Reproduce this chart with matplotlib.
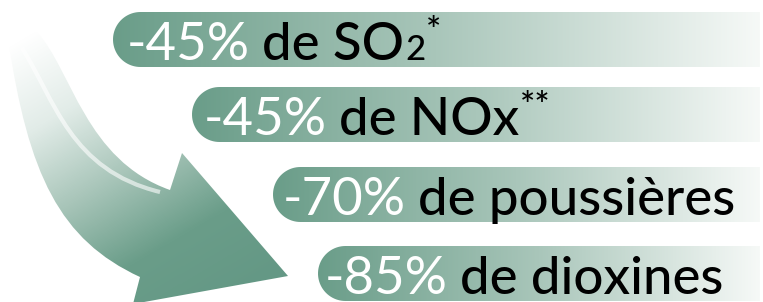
import matplotlib
matplotlib.use('Agg')
import numpy as np
import matplotlib.pyplot as plt
from matplotlib.path import Path
from matplotlib.patches import PathPatch
from matplotlib.colors import LinearSegmentedColormap

# Data: reductions shown on the infographic
percent = ['-45%', '-45%', '-70%', '-85%']
pollutant = ['de SO', 'de NOx', 'de poussières', 'de dioxines']
subscript = ['2', '', '', '']
note = ['*', '**', '', '']

W, H = 763, 302
GREEN = '#6a9d89'
FONT = 'Lato'
SIZE = 38

fig = plt.figure(figsize=(W / 100, H / 100), dpi=100)
ax = fig.add_axes([0, 0, 1, 1])
ax.set_xlim(0, W)
ax.set_ylim(H, 0)
ax.axis('off')
renderer = fig.canvas.get_renderer()

bar_cmap = LinearSegmentedColormap.from_list('bar', [GREEN, '#a9c6ba', '#f6f9f7'])
arrow_cmap = LinearSegmentedColormap.from_list('arrow', ['#ffffff', '#e2ece8', '#a8c5b9', GREEN, '#649885'])

# ---- curved arrow on the left ----
verts = [(37, 32),
         (72, 70), (85, 160), (170, 190),
         (182, 153), (288, 276), (133, 304), (140, 277),
         (60, 240), (28, 175), (8, 38),
         (37, 32)]
codes = [Path.MOVETO,
         Path.CURVE4, Path.CURVE4, Path.CURVE4,
         Path.LINETO, Path.LINETO, Path.LINETO, Path.LINETO,
         Path.CURVE4, Path.CURVE4, Path.CURVE4,
         Path.CLOSEPOLY]
arrow = PathPatch(Path(verts, codes), facecolor='none', edgecolor='none')
ax.add_patch(arrow)
gx, gy = np.meshgrid(np.linspace(0, 1, 300), np.linspace(0, 1, 300))
grad = np.clip(0.45 * gx + 0.75 * gy - 0.08, 0, 1)
img = ax.imshow(grad, cmap=arrow_cmap, extent=(0, 300, 310, 20), origin='upper',
                interpolation='bilinear', zorder=1)
img.set_clip_path(arrow)

# light streak inside the arrow
streak = Path([(22, 48), (55, 100), (70, 170), (160, 192)],
              [Path.MOVETO, Path.CURVE4, Path.CURVE4, Path.CURVE4])
ax.add_patch(PathPatch(streak, facecolor='none', edgecolor='white', lw=3, alpha=0.6, zorder=2))

# ---- gradient bars with text ----
lefts = [113, 192, 273, 318]
tops = [12, 87, 167, 246]
text_x = [127, 204, 283, 325]
bar_h = 55
right = 760
r = bar_h / 2

for i in range(len(percent)):
    left, top = lefts[i], tops[i]
    ang = np.linspace(np.pi / 2, 3 * np.pi / 2, 40)
    cx, cy = left + r, top + r
    arc = np.column_stack([cx + r * np.cos(ang), cy - r * np.sin(ang)])
    pts = np.vstack([[right, top], arc, [right, top + bar_h], [right, top]])
    bar = PathPatch(Path(pts, closed=True), facecolor='none', edgecolor='none')
    ax.add_patch(bar)
    g = np.linspace(0, 1, 256).reshape(1, -1)
    im = ax.imshow(g, cmap=bar_cmap, extent=(left, right, top + bar_h, top),
                   aspect='auto', interpolation='bilinear', zorder=3)
    im.set_clip_path(bar)

    base = top + 48
    t = ax.text(text_x[i], base, percent[i], color='white', fontsize=SIZE, family=FONT,
                va='baseline', zorder=4)
    x = t.get_window_extent(renderer).x1 + 12
    t = ax.text(x, base, pollutant[i], color='black', fontsize=SIZE, family=FONT,
                fontweight='medium', va='baseline', zorder=4)
    x = t.get_window_extent(renderer).x1
    if subscript[i]:
        t = ax.text(x + 1, base, subscript[i], color='black', fontsize=25, family=FONT,
                    fontweight='medium', va='baseline', zorder=4)
        x = t.get_window_extent(renderer).x1
    if note[i]:
        ax.text(x + 1, top + 4, note[i], color='black', fontsize=26, family=FONT,
                fontweight='medium', va='top', zorder=4)

fig.savefig('out.png', dpi=100)
